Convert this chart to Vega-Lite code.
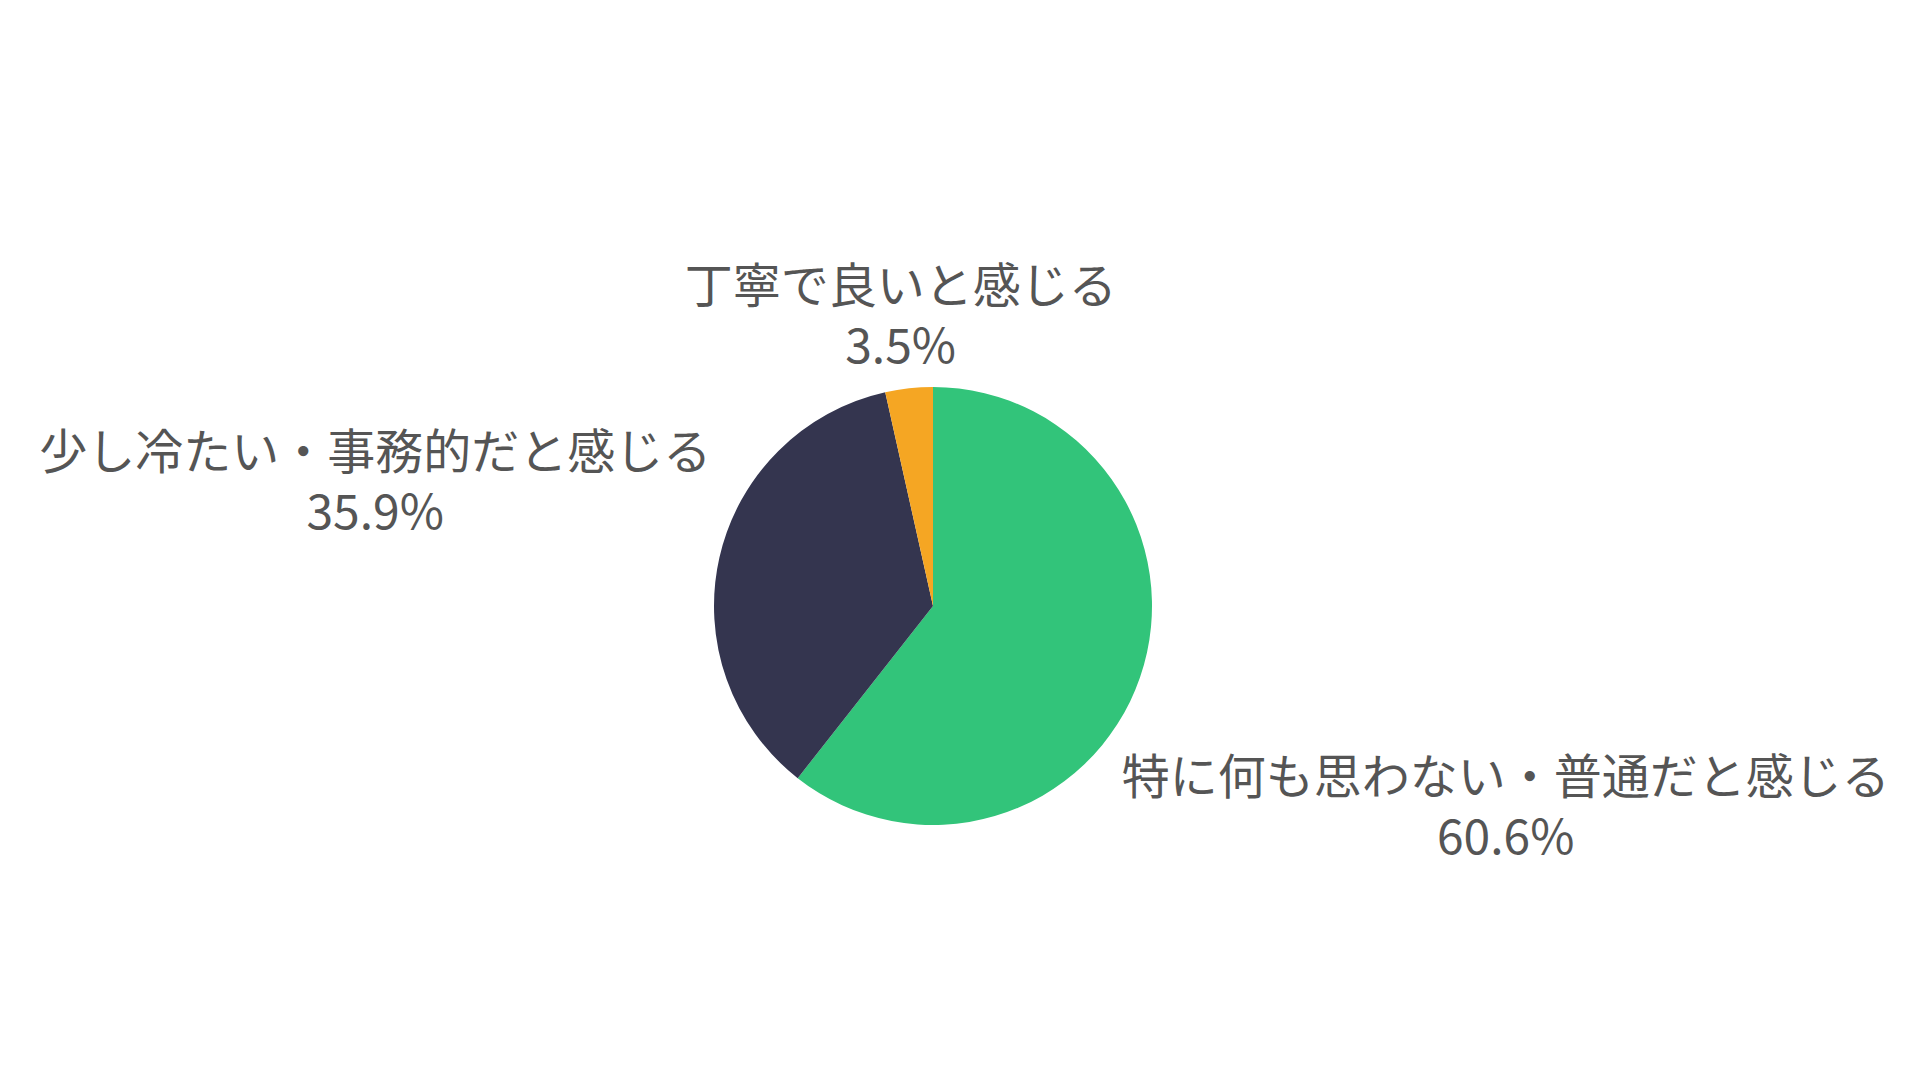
{
  "$schema": "https://vega.github.io/schema/vega-lite/v6.json",
  "autosize": "none",
  "width": 1866,
  "height": 948,
  "padding": {"left": 0, "top": 132, "right": 54, "bottom": 0},
  "background": "white",
  "config": {"view": {"stroke": null}, "font": "Noto Sans CJK JP"},
  "data": {
    "values": [
      {"category": "特に何も思わない・普通だと感じる", "value": 60.6, "share": 0.606},
      {"category": "少し冷たい・事務的だと感じる", "value": 35.9, "share": 0.359},
      {"category": "丁寧で良いと感じる", "value": 3.5, "share": 0.035}
    ]
  },
  "encoding": {
    "theta": {"field": "value", "type": "quantitative", "stack": true},
    "order": {"field": "value", "type": "quantitative", "sort": "descending"}
  },
  "layer": [
    {
      "mark": {"type": "arc", "radius": 219},
      "encoding": {
        "color": {
          "field": "category",
          "type": "nominal",
          "scale": {
            "domain": ["特に何も思わない・普通だと感じる", "少し冷たい・事務的だと感じる", "丁寧で良いと感じる"],
            "range": ["#32C47A", "#34354F", "#F5A623"]
          },
          "legend": null
        }
      }
    },
    {
      "mark": {"type": "text", "fontSize": 48, "color": "#555555", "baseline": "middle", "align": "center", "dy": -24},
      "encoding": {
        "radius": {
          "field": "value",
          "type": "quantitative",
          "scale": {"type": "linear", "zero": false, "domain": [3.5, 35.9, 60.6], "range": [295, 572, 606]}
        },
        "text": {"field": "category", "type": "nominal"}
      }
    },
    {
      "mark": {"type": "text", "fontSize": 48, "color": "#555555", "baseline": "middle", "align": "center", "dy": 36},
      "encoding": {
        "radius": {
          "field": "value",
          "type": "quantitative",
          "scale": {"type": "linear", "zero": false, "domain": [3.5, 35.9, 60.6], "range": [295, 572, 606]}
        },
        "text": {"field": "share", "type": "quantitative", "format": ".1%"}
      }
    }
  ]
}
